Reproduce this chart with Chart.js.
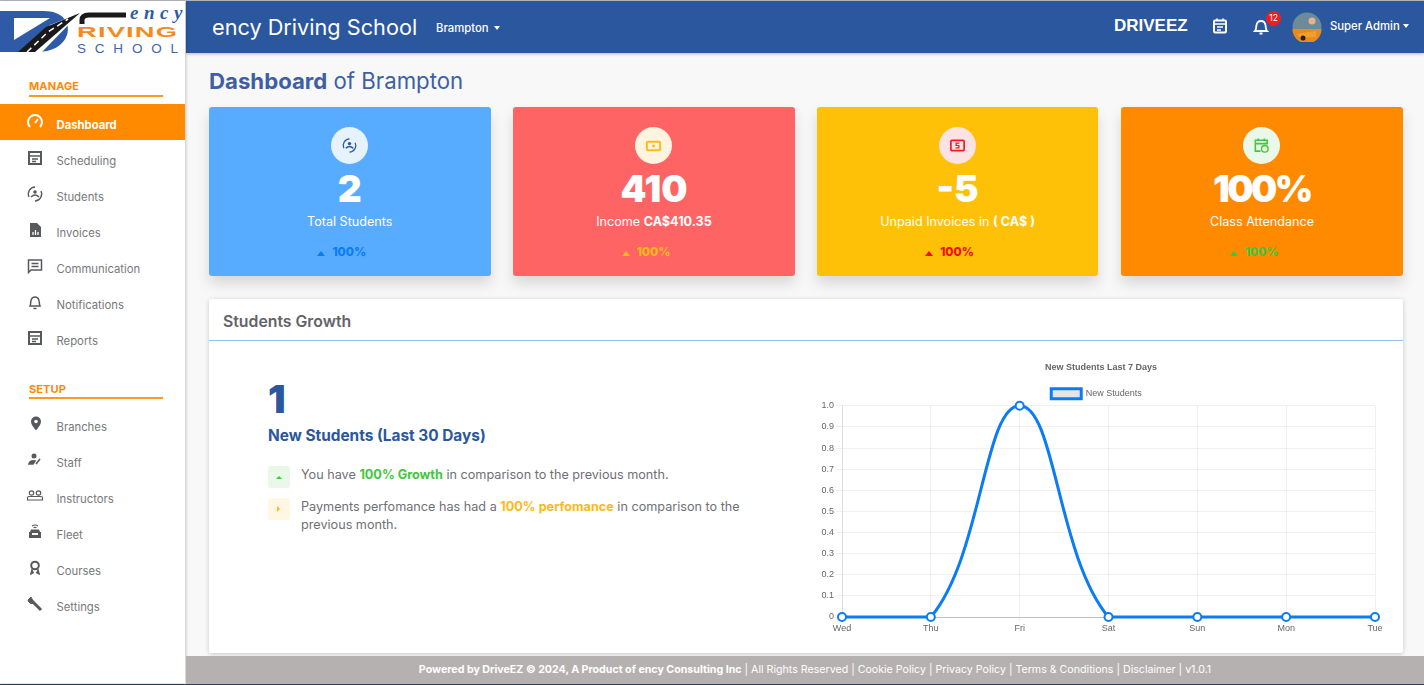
<!DOCTYPE html>
<html>
<head>
<meta charset="utf-8">
<title>Dashboard of Brampton</title>
<script src="https://cdn.jsdelivr.net/npm/chart.js@4"></script>
<style>
* { box-sizing: border-box; }
html, body { margin: 0; width: 1424px; height: 685px; overflow: hidden; background: #f8f8f8; font-family: Inter, "Open Sans", sans-serif; }
.abs, .nav, .nav-ic, .card, .card > * { position: absolute; }
.abs { white-space: nowrap; }
#topline { left: 0; top: 0; width: 1424px; height: 1px; background: #b9bcc2; }
#sidebar { left: 0; top: 1px; width: 185px; height: 682px; background: #fff; box-shadow: 1px 0 3px rgba(0,0,0,.2); }
#bottomline { left: 0; top: 683.500px; width: 1424px; height: 1.500px; background: #26405f; }
#header { left: 186px; top: 1px; width: 1238px; height: 52px; background: #2a579d; box-shadow: 0 1px 3px rgba(0,0,0,.25); }
.section { left: 29px; width: 134px; height: 18px; border-bottom: 2px solid #ff9a1f; color: #ff8a00; font-size: 11px; font-weight: 700; letter-spacing: .1px; }
.nav { left: 56.500px; font-size: 11.300px; color: #77787c; white-space: nowrap; }
.nav-ic { left: 26px; width: 18px; height: 18px; fill: none; stroke: #58595d; stroke-width: 2; }
.card { top: 107px; width: 282px; height: 169px; border-radius: 3px; box-shadow: 0 8px 14px rgba(0,0,0,.13); color: #fff; text-align: center; }
.card .bubble { left: 122px; top: 20px; width: 37px; height: 37px; border-radius: 50%; }
.card .bubble svg { position: absolute; left: 10px; top: 10px; width: 17px; height: 17px; fill: none; stroke-width: 2; }
.card .num { left: 0; width: 100%; top: 58px; font-size: 37px; line-height: 48px; font-weight: 900; }
.card .lbl { left: 0; width: 100%; top: 106px; font-size: 12.600px; line-height: 17px; }
.card .pct { left: -8px; width: 100%; top: 136.500px; font-size: 11.800px; line-height: 17px; font-weight: 800; }
.tri { display: inline-block; width: 0; height: 0; border-left: 4.500px solid transparent; border-right: 4.500px solid transparent; border-bottom: 5px solid; margin-right: 7px; position: relative; top: 0; }
#panel { left: 209px; top: 299px; width: 1194px; height: 354px; background: #fff; box-shadow: 0 1px 5px rgba(0,0,0,.2); border-radius: 2px; }
#panelhead { left: 209px; top: 340px; width: 1194px; height: 1px; background: #9cc0e6; }
#footer { left: 186px; top: 656px; width: 1238px; height: 29px; padding-left: 20px; background: #b5b1b0; color: #fff; font-size: 10.650px; line-height: 27px; text-align: center; }
.txt { font-size: 12.650px; color: #6f7076; line-height: 18px; }
.chip { width: 22px; height: 22px; border-radius: 3px; }
#chartBox { position: absolute; left: 800px; top: 355px; width: 590px; height: 285px; }
</style>
</head>
<body>
<div class="abs" id="topline"></div>
<div class="abs" id="header"></div>
<div class="abs" id="sidebar"></div>

<!-- logo -->
<svg class="abs" style="left:0;top:8px" width="84" height="46" viewBox="0 0 84 46">
  <path d="M0 3H44C62 3 71 14 67 27C63 38 52 44 36 44H0Z" fill="#2f5aa8"/>
  <path d="M14 10H50L14 32Z" fill="#fff"/>
  <path d="M22 44L50 17L80 5L42 44Z" fill="#fff"/>
  <path d="M18 44L46 19L80 5L35 44Z" fill="#1a1a1a"/>
  <path d="M27 44L48 24L68 11" stroke="#fff" stroke-width="1.500" stroke-dasharray="6 4" fill="none"/>
</svg>
<svg class="abs" style="left:78px;top:10px" width="50" height="16" viewBox="0 0 50 16"><path d="M4 14V10Q4 5 11 5H48" stroke="#1a1a1a" stroke-width="5" fill="none"/></svg>
<div class="abs" style="left:130px;top:2px;font:italic 700 19px/22px 'Liberation Serif',serif;color:#2f5aa8;letter-spacing:5.500px">ency</div>
<div class="abs" style="left:77px;top:25.500px;font:900 14px/13px 'Liberation Sans',sans-serif;color:#f58a1f;letter-spacing:.6px;transform-origin:left;transform:scaleX(1.950)">RIVING</div>
<div class="abs" style="left:77px;top:41.500px;font:400 13.500px/13px 'Liberation Sans',sans-serif;color:#3f65ad;letter-spacing:8.800px">SCHOOL</div>

<!-- header -->
<div class="abs" style="left:212px;top:12px;font-size:21.700px;line-height:30px;color:#fff">ency Driving School</div>
<div class="abs" style="left:436px;top:20.500px;font-size:11.300px;line-height:15px;color:#fff;font-weight:500">Brampton</div>
<div class="abs" style="left:494px;top:26px;border:3.500px solid transparent;border-top:4px solid #fff"></div>
<div class="abs" style="left:1114px;top:14px;font:900 17px/24px 'Liberation Sans',sans-serif;color:#fff">DRIVEEZ</div>
<svg class="abs" style="left:1211px;top:17px" width="18" height="18" viewBox="0 0 18 18" fill="none" stroke="#fff" stroke-width="2"><rect x="3" y="3.500" width="12" height="12" rx="1"/><path d="M3 7H15M6 1.500V4M12 1.500V4M6 10H12M6 13H10" stroke-width="1.600"/></svg>
<svg class="abs" style="left:1252px;top:17px" width="18" height="18" viewBox="0 0 18 18" fill="none" stroke="#fff" stroke-width="1.800"><path d="M3 14H15C13.500 12.500 14 10 13.500 8C13 5.500 11 4 9 4C7 4 5 5.500 4.500 8C4 10 4.500 12.500 3 14ZM7.500 16.500H10.500"/></svg>
<div class="abs" style="left:1266px;top:11px;width:15px;height:15px;border-radius:50%;background:#ee1c25;color:#fff;font-size:8.500px;line-height:15px;text-align:center">12</div>
<svg class="abs" style="left:1292px;top:12px" width="30" height="30" viewBox="0 0 30 30">
  <circle cx="15" cy="15" r="14.500" fill="#6c8a9a"/><path d="M0.500 17H29.500A14.500 14.500 0 0 1 0.500 17Z" fill="#e88a1c"/>
  <circle cx="20" cy="9" r="3.500" fill="#e3b48e"/><path d="M5 22L24 19V25L8 26Z" fill="#f0a02a"/><circle cx="11" cy="26" r="2.500" fill="#222"/>
</svg>
<div class="abs" style="left:1330px;top:18.500px;font-size:11.300px;line-height:15px;color:#fff;font-weight:500">Super Admin</div>
<div class="abs" style="left:1403px;top:24px;border:3.500px solid transparent;border-top:4px solid #fff"></div>

<!-- sidebar -->
<div class="abs section" style="top:79px">MANAGE</div>
<div class="abs" style="left:0;top:104px;width:185px;height:36px;background:#ff8a00"></div>
<svg class="nav-ic" style="top:113px;stroke:#fff" viewBox="0 0 18 18"><path d="M4 14A7 7 0 1 1 14 14M9 10L12 6"/></svg>
<div class="nav" style="top:118px;color:#fff;font-weight:700">Dashboard</div>
<svg class="nav-ic" style="top:149px" viewBox="0 0 18 18"><rect x="3" y="3" width="12" height="12"/><path d="M3 7H15M6 10H12M6 12.500H10" stroke-width="1.400"/></svg>
<div class="nav" style="top:154px">Scheduling</div>
<svg class="nav-ic" style="top:185px" viewBox="0 0 18 18"><path d="M3 12A7 7 0 0 1 9 2M15 6A7 7 0 0 1 9 16" stroke-width="1.300"/><circle cx="9" cy="7" r="1.800" fill="#58595d" stroke="none"/><path d="M5 12Q9 8 13 12" stroke-width="1.500"/></svg>
<div class="nav" style="top:190px">Students</div>
<svg class="nav-ic" style="top:221px" viewBox="0 0 18 18"><path d="M4 2H11L15 6V16H4Z" fill="#58595d" stroke="none"/><path d="M7 14V11M9.500 14V9M12 14V11" stroke="#fff" stroke-width="1.300"/></svg>
<div class="nav" style="top:226px">Invoices</div>
<svg class="nav-ic" style="top:257px" viewBox="0 0 18 18"><path d="M2.500 3H15.500V13H5L2.500 15.500ZM5.500 6.500H12.500M5.500 9.500H12.500" stroke-width="1.500"/></svg>
<div class="nav" style="top:262px">Communication</div>
<svg class="nav-ic" style="top:293px" viewBox="0 0 18 18"><path d="M4 13H14C13 11 13.500 9 13 7.500C12.500 5.500 11 4 9 4C7 4 5.500 5.500 5 7.500C4.500 9 5 11 4 13ZM7.500 15.500H10.500" stroke-width="1.500"/></svg>
<div class="nav" style="top:298px">Notifications</div>
<svg class="nav-ic" style="top:329px" viewBox="0 0 18 18"><rect x="3" y="3" width="12" height="12"/><path d="M3 7H15M6 10H12M6 12.500H10" stroke-width="1.400"/></svg>
<div class="nav" style="top:334px">Reports</div>

<div class="abs section" style="top:382px;height:17px">SETUP</div>
<svg class="nav-ic" style="top:415px" viewBox="0 0 18 18"><path d="M10 1.500A5 5 0 0 1 15 6.500C15 10 10 15.500 10 15.500C10 15.500 5 10 5 6.500A5 5 0 0 1 10 1.500Z" fill="#58595d" stroke="none"/><circle cx="10" cy="6.500" r="1.800" fill="#fff" stroke="none"/></svg>
<div class="nav" style="top:420px">Branches</div>
<svg class="nav-ic" style="top:451px" viewBox="0 0 18 18"><circle cx="8" cy="5" r="2.500" fill="#58595d" stroke="none"/><path d="M3 13Q4 9 9 10L7 13ZM10 13L14 8" stroke-width="1.600" fill="#58595d"/></svg>
<div class="nav" style="top:456px">Staff</div>
<svg class="nav-ic" style="top:487px" viewBox="0 0 18 18"><circle cx="5.500" cy="6" r="2.200" stroke-width="1.200"/><circle cx="12.500" cy="6" r="2.200" stroke-width="1.200"/><path d="M1.500 13V11Q1.500 9.500 3 9.500H15Q16.500 9.500 16.500 11V13Z" stroke-width="1.200"/></svg>
<div class="nav" style="top:492px">Instructors</div>
<svg class="nav-ic" style="top:523px" viewBox="0 0 18 18"><path d="M4 9L5 6.500H13L14 9H15V15H3V9Z" fill="#58595d" stroke="none"/><path d="M6 3Q9 1 12 3M7.500 4.800Q9 4 10.500 4.800" stroke-width="1.100"/><rect x="6" y="10" width="6" height="2" fill="#fff" stroke="none"/></svg>
<div class="nav" style="top:528px">Fleet</div>
<svg class="nav-ic" style="top:559px" viewBox="0 0 18 18"><circle cx="9" cy="6.500" r="3.800" stroke-width="2"/><path d="M6 10L4.500 15.500L8 13.500M12 10L13.500 15.500L10 13.500" fill="#58595d" stroke-width="1"/></svg>
<div class="nav" style="top:564px">Courses</div>
<svg class="nav-ic" style="top:595px" viewBox="0 0 18 18"><path d="M6 6L15 15" stroke-width="3"/><path d="M2 5A4 4 0 0 0 8 8L5 2Z" fill="#58595d" stroke-width="1"/></svg>
<div class="nav" style="top:600px">Settings</div>

<!-- heading -->
<div class="abs" style="left:209px;top:65.500px;font-size:22.200px;line-height:30px;color:#3d5fa6"><b style="font-weight:700">Dashboard</b> of Brampton</div>

<!-- cards -->
<div class="card" style="left:209px;width:281.500px;background:#58acff">
  <div class="bubble" style="background:#e7f2ff"><svg viewBox="0 0 18 18" stroke="#2a579d"><path d="M3 12A7 7 0 0 1 9 2M15 6A7 7 0 0 1 9 16" stroke-width="1.300"/><circle cx="9" cy="7" r="1.800" fill="#2a579d" stroke="none"/><path d="M5 12Q9 8 13 12" stroke-width="1.500"/></svg></div>
  <div class="num">2</div><div class="lbl">Total Students</div>
  <div class="pct" style="color:#0a7cf5"><span class="tri"></span>100%</div>
</div>
<div class="card" style="left:513px;background:#ff6464">
  <div class="bubble" style="background:#fff4e0"><svg viewBox="0 0 18 18" stroke="#ffb81c"><rect x="2" y="5" width="14" height="9" rx="1" stroke-width="2"/><circle cx="9" cy="9.500" r="1.500" fill="#ffb81c" stroke="none"/></svg></div>
  <div class="num">410</div><div class="lbl">Income <b>CA$410.35</b></div>
  <div class="pct" style="color:#ffb81c"><span class="tri"></span>100%</div>
</div>
<div class="card" style="left:817px;width:281px;background:#ffc107">
  <div class="bubble" style="background:#fde2e4"><svg viewBox="0 0 18 18" stroke="#ee1c25"><rect x="2" y="3.500" width="14" height="11" rx="1" stroke-width="1.800"/><path d="M11 6.500H7.500V9H10.500V11.500H7" stroke-width="1.300"/></svg></div>
  <div class="num">-5</div><div class="lbl">Unpaid Invoices in <b>( CA$ )</b></div>
  <div class="pct" style="color:#f10d0d"><span class="tri"></span>100%</div>
</div>
<div class="card" style="left:1121px;background:#ff8a00">
  <div class="bubble" style="background:#e9f8e9"><svg viewBox="0 0 18 18" stroke="#3fc73f"><path d="M8 15H2.500V3.500H15V8M2.500 7H15M5.500 1.500V4M12 1.500V4" stroke-width="1.700"/><circle cx="12.500" cy="12.500" r="3.500" stroke-width="1.500"/></svg></div>
  <div class="num" style="letter-spacing:-2.500px">100%</div><div class="lbl">Class Attendance</div>
  <div class="pct" style="color:#3fc73f"><span class="tri"></span>100%</div>
</div>

<!-- panel -->
<div class="abs" id="panel"></div>
<div class="abs" id="panelhead"></div>
<div class="abs" style="left:223px;top:312px;font-size:15.800px;line-height:20px;font-weight:600;color:#626368">Students Growth</div>
<div class="abs" style="left:268px;top:376px;font-size:39px;line-height:46px;font-weight:900;color:#2a579d">1</div>
<div class="abs" style="left:268px;top:425px;font-size:15.400px;line-height:21px;font-weight:700;color:#2a579d">New Students (Last 30 Days)</div>
<div class="abs chip" style="left:268px;top:466px;background:#e9f8e9"></div>
<div class="abs" style="left:276px;top:476px;border:3px solid transparent;border-bottom:3.500px solid #3fc73f;border-top:0"></div>
<div class="abs txt" style="left:301px;top:466px">You have <b style="color:#3fc73f">100% Growth</b> in comparison to the previous month.</div>
<div class="abs chip" style="left:268px;top:498px;background:#fff6e3"></div>
<div class="abs" style="left:277px;top:506px;border:3px solid transparent;border-left:3.500px solid #ffb81c;border-right:0"></div>
<div class="abs txt" style="left:301px;top:498px">Payments perfomance has had a <b style="color:#ffb81c">100% perfomance</b> in comparison to the</div>
<div class="abs txt" style="left:301px;top:516px">previous month.</div>

<div id="chartBox"><canvas id="growthChart"></canvas></div>

<!-- footer -->
<div class="abs" id="footer"><b>Powered by DriveEZ &copy; 2024, A Product of ency Consulting Inc</b> | All Rights Reserved | Cookie Policy | Privacy Policy | Terms &amp; Conditions | Disclaimer | v1.0.1</div>
<div class="abs" id="bottomline"></div>

<script>
// Chart data
const days = ['Wed', 'Thu', 'Fri', 'Sat', 'Sun', 'Mon', 'Tue'];
const newStudents = [0, 0, 1, 0, 0, 0, 0];
const yTickLabels = ['0', '0.1', '0.2', '0.3', '0.4', '0.5', '0.6', '0.7', '0.8', '0.9', '1.0'];
const seriesName = 'New Students';
const chartTitle = 'New Students Last 7 Days';

const blue = '#0a7cf5';
const ctx = document.getElementById('growthChart').getContext('2d');

Chart.defaults.font.family = '"Liberation Sans", Arial, sans-serif';
Chart.defaults.font.size = 9;
Chart.defaults.color = '#666';

// title and legend are not centred on the same spot in the original
const headerShift = {
    id: 'headerShift',
    afterLayout(chart) {
        chart.titleBlock.left += 27;
        chart.legend.left += 18;
        chart.legend.top += 3;
    }
};

new Chart(ctx, {
    type: 'line',
    plugins: [headerShift],
    data: {
        labels: days,
        datasets: [{
            label: seriesName,
            data: newStudents,
            borderColor: blue,
            backgroundColor: 'rgba(0,0,0,0.1)',
            borderWidth: 3,
            fill: false,
            tension: 0.4,
            clip: false,
            pointBackgroundColor: '#fff',
            pointBorderColor: blue,
            pointBorderWidth: 2,
            pointRadius: 4
        }]
    },
    options: {
        responsive: true,
        maintainAspectRatio: false,
        animation: false,
        layout: { padding: { top: 7, right: 15, left: 0, bottom: 0 } },
        plugins: {
            title: {
                display: true,
                text: chartTitle,
                font: { size: 9, weight: 'bold' },
                padding: { top: 0, bottom: 8 }
            },
            legend: {
                labels: { boxWidth: 30, boxHeight: 10, padding: 5, font: { size: 9 } }
            },
            tooltip: { enabled: false }
        },
        scales: {
            y: {
                min: 0,
                max: 1,
                afterFit: (scale) => { scale.width = 42; },
                grid: { color: 'rgba(0,0,0,0.06)', drawTicks: true, tickLength: 6 },
                border: { color: 'rgba(0,0,0,0.08)' },
                ticks: {
                    stepSize: 0.1,
                    padding: 2,
                    callback: (value, index) => yTickLabels[index]
                }
            },
            x: {
                afterFit: (scale) => { scale.height = 23; },
                grid: { color: 'rgba(0,0,0,0.06)', tickLength: 4 },
                border: { color: 'rgba(0,0,0,0.2)' },
                ticks: { maxRotation: 0, padding: 2 }
            }
        }
    }
});
</script>
</body>
</html>
